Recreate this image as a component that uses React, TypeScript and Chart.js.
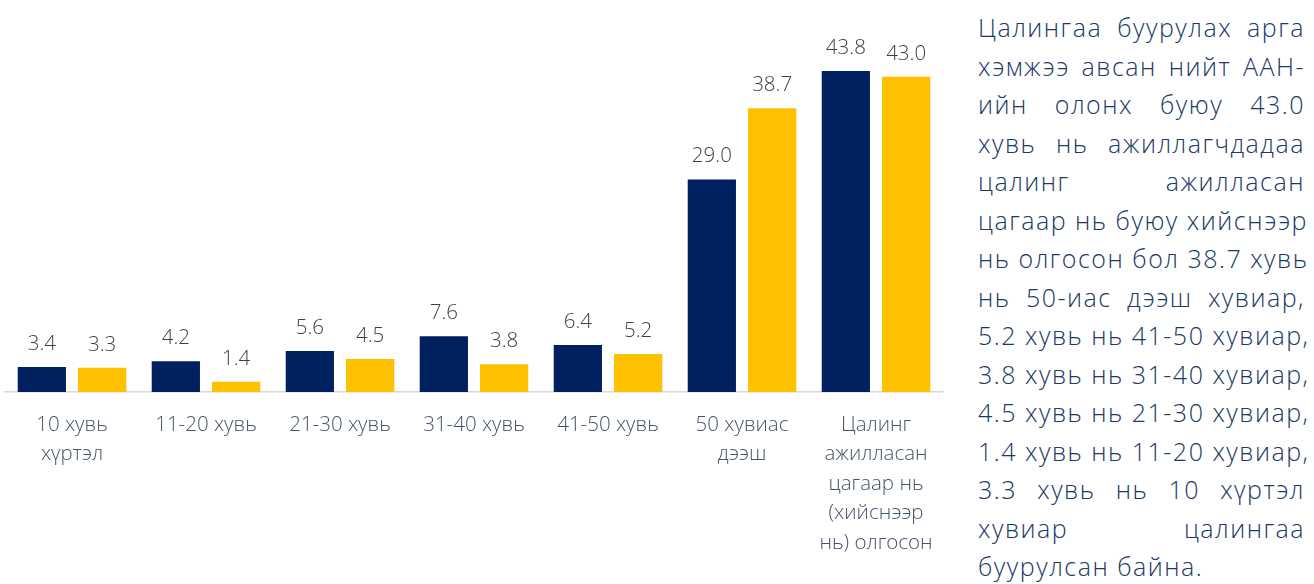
import React, { useEffect, useRef } from "react";
import { Chart, registerables } from "chart.js";

Chart.register(...registerables);

const categories: string[][] = [
  ["10 хувь", "хүртэл"],
  ["11-20 хувь"],
  ["21-30 хувь"],
  ["31-40 хувь"],
  ["41-50 хувь"],
  ["50 хувиас", "дээш"],
  ["Цалинг", "ажилласан", "цагаар нь", "(хийснээр", "нь) олгосон"],
];
const seriesNavy: number[] = [3.4, 4.2, 5.6, 7.6, 6.4, 29.0, 43.8];
const seriesYellow: number[] = [3.3, 1.4, 4.5, 3.8, 5.2, 38.7, 43.0];

const paragraphLines: string[] = [
  "Цалингаа буурулах арга",
  "хэмжээ авсан нийт ААН-",
  "ийн олонх буюу 43.0",
  "хувь нь ажиллагчдадаа",
  "цалинг ажилласан",
  "цагаар нь буюу хийснээр",
  "нь олгосон бол 38.7 хувь",
  "нь 50-иас дээш хувиар,",
  "5.2 хувь нь 41-50 хувиар,",
  "3.8 хувь нь 31-40 хувиар,",
  "4.5 хувь нь 21-30 хувиар,",
  "1.4 хувь нь 11-20 хувиар,",
  "3.3 хувь нь 10 хүртэл",
  "хувиар цалингаа",
  "буурулсан байна.",
];

const FONT = "'Open Sans', 'Noto Sans', sans-serif";

const valueLabels = {
  id: "valueLabels",
  afterDatasetsDraw(chart: any) {
    const ctx = chart.ctx;
    ctx.save();
    ctx.font = `300 20.5px ${FONT}`;
    ctx.fillStyle = "#404040";
    ctx.textAlign = "center";
    ctx.textBaseline = "alphabetic";
    chart.data.datasets.forEach((ds: any, di: number) => {
      const meta = chart.getDatasetMeta(di);
      meta.data.forEach((bar: any, i: number) => {
        const v = ds.data[i] as number;
        ctx.fillText(v.toFixed(1), bar.x, bar.y - 17);
      });
    });
    ctx.restore();
  },
};

export default function App() {
  const ref = useRef<HTMLCanvasElement | null>(null);
  useEffect(() => {
    if (!ref.current) return;
    const chart = new Chart(ref.current, {
      type: "bar",
      data: {
        labels: categories,
        datasets: [
          {
            label: "A",
            data: seriesNavy,
            backgroundColor: "#002060",
            barPercentage: 0.8,
            categoryPercentage: 0.9,
          },
          {
            label: "B",
            data: seriesYellow,
            backgroundColor: "#FFC000",
            barPercentage: 0.8,
            categoryPercentage: 0.9,
          },
        ],
      },
      options: {
        animation: false,
        responsive: false,
        devicePixelRatio: 1,
        layout: { padding: { left: 5, right: 7, top: 25.5, bottom: 0 } },
        plugins: {
          legend: { display: false },
          tooltip: { enabled: false },
        },
        scales: {
          x: {
            grid: { display: false },
            border: { display: true, color: "#D9D9D9", width: 1.5 },
            ticks: {
              color: "#44546A",
              font: { family: FONT, size: 20.5, weight: "300", lineHeight: 1.44 },
              padding: 10,
              maxRotation: 0,
              autoSkip: false,
            },
            afterFit: (scale: any) => {
              scale.height = 192;
            },
          },
          y: {
            display: false,
            min: 0,
            max: 50,
          },
        },
      },
      plugins: [valueLabels],
    });
    return () => chart.destroy();
  }, []);

  return (
    <div
      style={{
        position: "absolute",
        left: 0,
        top: 0,
        width: 1314,
        height: 584,
        overflow: "hidden",
        background: "#fff",
      }}
    >
      <div style={{ position: "absolute", left: 0, top: 0, width: 950, height: 584 }}>
        <canvas ref={ref} width={950} height={584} />
      </div>
      <div
        style={{
          position: "absolute",
          left: 978,
          top: 8,
          width: 327,
          fontFamily: FONT,
          fontSize: 25,
          fontWeight: 300,
          letterSpacing: "1.5px",
          lineHeight: "38.5px",
          color: "#203864",
        }}
      >
        {paragraphLines.map((line, i) => (
          <div
            key={i}
            style={{
              textAlign: "justify",
              textAlignLast: i === paragraphLines.length - 1 ? "left" : "justify",
              whiteSpace: "nowrap",
            }}
          >
            {line}
          </div>
        ))}
      </div>
    </div>
  );
}
